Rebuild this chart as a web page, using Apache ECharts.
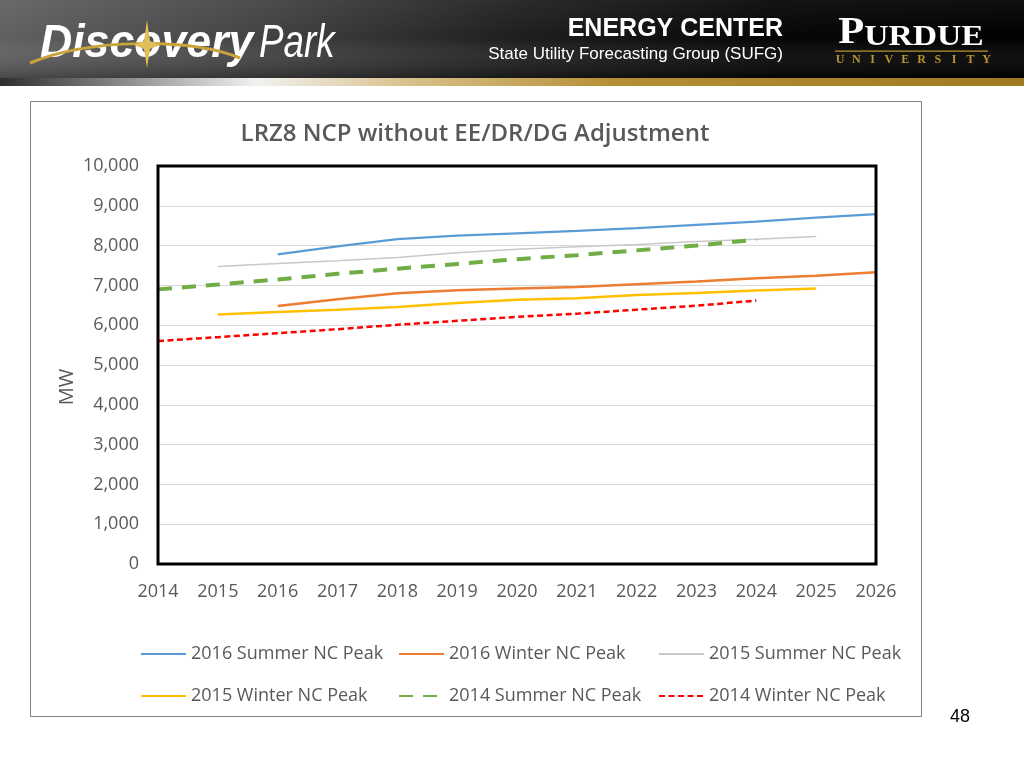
<!DOCTYPE html>
<html>
<head>
<meta charset="utf-8">
<script src="https://cdn.jsdelivr.net/npm/echarts@6/dist/echarts.min.js"></script>
<style>
  html, body { margin: 0; padding: 0; background: #fff; }
  #chart { width: 1024px; height: 768px; }
</style>
</head>
<body>
<div id="chart"></div>
<script>
// ---- data ----
const years = ['2014','2015','2016','2017','2018','2019','2020','2021','2022','2023','2024','2025','2026'];
const yTicks = [0, 1000, 2000, 3000, 4000, 5000, 6000, 7000, 8000, 9000, 10000];
const summer2016 = [null, null, 7780, 7980, 8160, 8250, 8310, 8370, 8440, 8520, 8600, 8700, 8790];
const winter2016 = [null, null, 6480, 6650, 6800, 6880, 6920, 6960, 7030, 7100, 7180, 7240, 7330];
const summer2015 = [null, 7475, 7550, 7620, 7700, 7820, 7910, 7970, 8030, 8100, 8160, 8230, null];
const winter2015 = [null, 6270, 6330, 6390, 6460, 6560, 6640, 6680, 6760, 6810, 6870, 6925, null];
const summer2014 = [6900, 7020, 7150, 7290, 7420, 7540, 7660, 7760, 7880, 8000, 8150, null, null];
const winter2014 = [5600, 5700, 5800, 5900, 6010, 6110, 6210, 6290, 6390, 6490, 6620, null, null];
const seriesNames = ['2016 Summer NC Peak','2016 Winter NC Peak','2015 Summer NC Peak','2015 Winter NC Peak','2014 Summer NC Peak','2014 Winter NC Peak'];

const FONT = '"Open Sans", sans-serif';
const TXT = '#595959';

const chart = echarts.init(document.getElementById('chart'), null, {renderer: 'canvas'});

function lineSeries(name, data, color, width, type) {
  return {
    name: name, type: 'line', data: data, symbol: 'none', showSymbol: false, connectNulls: false,
    lineStyle: { color: color, width: width, type: type || 'solid', cap: 'butt' },
    itemStyle: { color: color },
    emphasis: { disabled: true }, animation: false, z: 3
  };
}

const legendPos = [[140, 645], [398, 645], [658, 645], [140, 687], [398, 687], [658, 687]];
const legends = seriesNames.map((n, i) => ({
  data: [n], left: legendPos[i][0], top: legendPos[i][1], orient: 'horizontal', padding: 0,
  itemWidth: 45, itemHeight: 14, itemGap: 4, selectedMode: false,
  itemStyle: { opacity: 0 },
  textStyle: { fontSize: 18, color: TXT, fontFamily: FONT }
}));

const univ = 'UNIVERSITY'.split('').map((ch, i) => ({
  type: 'text', x: 840 + i * 16.3, y: 60,
  style: { text: ch, fontSize: 12, fontWeight: 'bold', fontFamily: '"Liberation Serif", serif', fill: '#b8952f', align: 'center', verticalAlign: 'middle' }, z: 13
}));

const option = {
  backgroundColor: '#ffffff',
  animation: false,
  grid: { left: 158, top: 166, width: 718, height: 398, show: true, borderColor: '#000', borderWidth: 3, backgroundColor: 'transparent', z: 4 },
  xAxis: {
    type: 'category', data: years, boundaryGap: false,
    axisLine: { show: false }, axisTick: { show: false },
    axisLabel: { fontSize: 18, color: TXT, fontFamily: FONT, margin: 19 },
    splitLine: { show: false }
  },
  yAxis: {
    type: 'value', min: 0, max: 10000, interval: 1000,
    axisLine: { show: false }, axisTick: { show: false },
    axisLabel: { fontSize: 18, color: TXT, fontFamily: FONT, margin: 19,
      formatter: v => v.toLocaleString('en-US') },
    splitLine: { show: true, lineStyle: { color: '#d9d9d9', width: 1 } }
  },
  legend: legends,
  series: [
    lineSeries(seriesNames[0], summer2016, '#5b9bd5', 2.25),
    lineSeries(seriesNames[1], winter2016, '#ed7d31', 2.5),
    lineSeries(seriesNames[2], summer2015, '#c9c9c9', 1.5),
    lineSeries(seriesNames[3], winter2015, '#ffc000', 2.5),
    lineSeries(seriesNames[4], summer2014, '#70ad47', 4, [14, 10]),
    lineSeries(seriesNames[5], winter2014, '#ff0000', 2.5, [6, 3.5])
  ],
  graphic: [
    // chart frame
    { type: 'rect', shape: { x: 30.5, y: 101.5, width: 891, height: 615 }, style: { fill: 'none', stroke: '#7f7f7f', lineWidth: 1 }, z: 0 },
    // chart title
    { type: 'text', x: 475, y: 134, style: { text: 'LRZ8 NCP without EE/DR/DG Adjustment', fontSize: 24, fontWeight: 600, fontFamily: FONT, fill: TXT, align: 'center', verticalAlign: 'middle' }, z: 5 },
    // y axis name
    { type: 'text', x: 67, y: 387, rotation: Math.PI / 2, style: { text: 'MW', fontSize: 20, fontFamily: FONT, fill: TXT, align: 'center', verticalAlign: 'middle' }, z: 5 },
    // header background
    { type: 'rect', shape: { x: 0, y: 0, width: 1024, height: 78 },
      style: { fill: new echarts.graphic.LinearGradient(0, 0, 1, 0, [
        { offset: 0, color: '#606060' }, { offset: 0.25, color: '#434343' }, { offset: 0.5, color: '#1f1f1f' }, { offset: 0.75, color: '#060606' }, { offset: 1, color: '#000' }]) }, z: 10 },
    { type: 'rect', shape: { x: 0, y: 0, width: 1024, height: 78 },
      style: { fill: new echarts.graphic.LinearGradient(0, 0, 0, 1, [
        { offset: 0, color: 'rgba(255,255,255,0.06)' }, { offset: 0.5, color: 'rgba(255,255,255,0.0)' }, { offset: 1, color: 'rgba(0,0,0,0.25)' }]) }, z: 11 },
    // header bottom stripe
    { type: 'rect', shape: { x: 0, y: 78, width: 1024, height: 8 },
      style: { fill: new echarts.graphic.LinearGradient(0, 0, 1, 0, [
        { offset: 0, color: '#2e2e2e' }, { offset: 0.12, color: '#8a8a8a' }, { offset: 0.25, color: '#f2f2f2' }, { offset: 0.4, color: '#d8c08a' }, { offset: 0.6, color: '#b58f35' }, { offset: 1, color: '#a07a22' }]) }, z: 10 },
    // Discovery Park logo (text approximation)
    { type: 'text', x: 40, y: 44, scaleX: 0.97, style: { text: 'Discovery', fontSize: 46, fontWeight: 'bold', fontStyle: 'italic', fontFamily: '"Liberation Sans", sans-serif', fill: '#ffffff', verticalAlign: 'middle', align: 'left' }, z: 13 },
    { type: 'text', x: 259, y: 44, scaleX: 0.8, style: { text: 'Park', fontSize: 46, fontStyle: 'italic', fontFamily: '"Liberation Sans", sans-serif', fill: '#ffffff', verticalAlign: 'middle', align: 'left' }, z: 13 },
    { type: 'bezierCurve', shape: { x1: 30, y1: 63, x2: 240, y2: 58, cpx1: 90, cpy1: 38, cpx2: 190, cpy2: 38 }, style: { stroke: '#c9a43a', lineWidth: 3, fill: 'none' }, z: 14 },
    { type: 'polygon', shape: { points: [[147, 20], [150, 41], [160, 45], [150, 49], [147, 68], [144, 49], [134, 45], [144, 41]] }, style: { fill: '#e0bf5a' }, z: 14 },
    // Energy center texts
    { type: 'text', x: 783, y: 29, style: { text: 'ENERGY CENTER', fontSize: 25, fontWeight: 'bold', fontFamily: '"Liberation Sans", Arial, sans-serif', fill: '#ffffff', align: 'right', verticalAlign: 'middle' }, z: 13 },
    { type: 'text', x: 783, y: 54, style: { text: 'State Utility Forecasting Group (SUFG)', fontSize: 17, fontFamily: '"Liberation Sans", Arial, sans-serif', fill: '#ffffff', align: 'right', verticalAlign: 'middle' }, z: 13 },
    // Purdue
    { type: 'text', x: 911, y: 33, scaleX: 1.12, style: { text: '{a|P}{b|URDUE}', fontFamily: '"Liberation Serif", "DejaVu Serif", serif', fill: '#ffffff', align: 'center', verticalAlign: 'middle',
      rich: { a: { fontSize: 38, fontWeight: 'bold', fill: '#ffffff', fontFamily: '"Liberation Serif", serif', verticalAlign: 'bottom' }, b: { fontSize: 30, fontWeight: 'bold', fill: '#ffffff', fontFamily: '"Liberation Serif", serif', verticalAlign: 'bottom' } } }, z: 13 },
    { type: 'rect', shape: { x: 835, y: 50.5, width: 153, height: 1.2 }, style: { fill: '#b8952f' }, z: 13 },
    ...univ,
    // page number
    { type: 'text', x: 960, y: 717, style: { text: '48', fontSize: 18, fontFamily: '"Liberation Sans", Arial, sans-serif', fill: '#000', align: 'center', verticalAlign: 'middle' }, z: 5 }
  ]
};
chart.setOption(option);
</script>
</body>
</html>
